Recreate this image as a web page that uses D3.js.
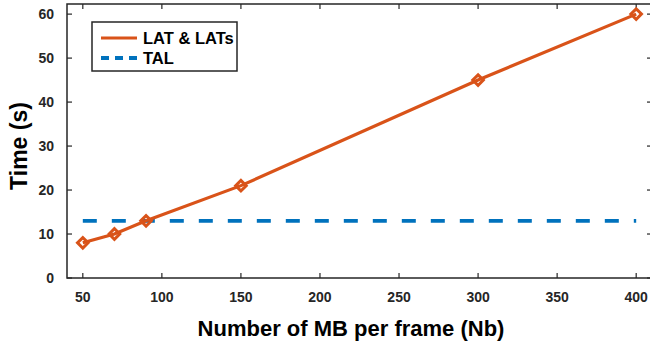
<!DOCTYPE html>
<html>
<head>
<meta charset="utf-8">
<script src="https://cdn.jsdelivr.net/npm/d3@7"></script>
<style>
  body { margin: 0; background: #fff; }
  text { font-family: "Liberation Sans", Arial, sans-serif; font-weight: bold; fill: #262626; }
</style>
</head>
<body>
<div id="chart"></div>
<script>
// data
const nb = [50, 70, 90, 150, 300, 400];
const latTime = [8, 10, 13, 21, 45, 60];
const talTime = 13;
const xTicks = [50, 100, 150, 200, 250, 300, 350, 400];
const yTicks = [0, 10, 20, 30, 40, 50, 60];
const seriesNames = ['LAT & LATs', 'TAL'];

const width = 650, height = 347;
const orange = '#D95319', blue = '#0072BD', axisColor = '#262626';

const svg = d3.select('#chart').append('svg')
  .attr('width', width)
  .attr('height', height);

const x = d3.scaleLinear().domain([40, 410]).range([67, 652]);
const y = d3.scaleLinear().domain([0, 62.3]).range([278, 4]);

// plot box
svg.append('rect')
  .attr('x', x(40)).attr('y', y(62.3))
  .attr('width', x(410) - x(40)).attr('height', y(0) - y(62.3))
  .attr('fill', 'none').attr('stroke', axisColor).attr('stroke-width', 1.5);

// inward ticks, all four sides
const tickLen = 5;
svg.append('g').selectAll('line').data(xTicks).enter().append('line')
  .attr('x1', d => x(d)).attr('x2', d => x(d))
  .attr('y1', y(0)).attr('y2', y(0) - tickLen)
  .attr('stroke', axisColor).attr('stroke-width', 1.2);
svg.append('g').selectAll('line').data(xTicks).enter().append('line')
  .attr('x1', d => x(d)).attr('x2', d => x(d))
  .attr('y1', y(62.3)).attr('y2', y(62.3) + tickLen)
  .attr('stroke', axisColor).attr('stroke-width', 1.2);
svg.append('g').selectAll('line').data(yTicks).enter().append('line')
  .attr('x1', x(40)).attr('x2', x(40) + tickLen)
  .attr('y1', d => y(d)).attr('y2', d => y(d))
  .attr('stroke', axisColor).attr('stroke-width', 1.2);
svg.append('g').selectAll('line').data(yTicks).enter().append('line')
  .attr('x1', x(410)).attr('x2', x(410) - tickLen)
  .attr('y1', d => y(d)).attr('y2', d => y(d))
  .attr('stroke', axisColor).attr('stroke-width', 1.2);

// tick labels
svg.append('g').selectAll('text').data(xTicks).enter().append('text')
  .attr('x', d => x(d)).attr('y', 302)
  .attr('text-anchor', 'middle').style('font-size', '14px')
  .text(d => d);
svg.append('g').selectAll('text').data(yTicks).enter().append('text')
  .attr('x', 54).attr('y', d => y(d) + 5)
  .attr('text-anchor', 'end').style('font-size', '14px')
  .text(d => d);

// axis titles
svg.append('text')
  .attr('x', 351).attr('y', 336)
  .attr('text-anchor', 'middle').style('font-size', '22px').style('fill', '#000')
  .text('Number of MB per frame (Nb)');
svg.append('text')
  .attr('transform', 'translate(27,146) rotate(-90)')
  .attr('text-anchor', 'middle').style('font-size', '23px').style('fill', '#000')
  .text('Time (s)');

// TAL dashed line
svg.append('line')
  .attr('x1', x(nb[0])).attr('x2', x(nb[nb.length - 1]))
  .attr('y1', y(talTime)).attr('y2', y(talTime))
  .attr('stroke', blue).attr('stroke-width', 3.8)
  .attr('stroke-dasharray', '14,15');

// LAT & LATs line
const pts = nb.map((d, i) => ({ x: d, y: latTime[i] }));
const line = d3.line().x(d => x(d.x)).y(d => y(d.y));
svg.append('path')
  .datum(pts)
  .attr('d', line)
  .attr('fill', 'none').attr('stroke', orange).attr('stroke-width', 3.2);

const diamond = d3.symbol().type(d3.symbolSquare).size(56);
svg.append('g').selectAll('path').data(pts).enter().append('path')
  .attr('d', diamond)
  .attr('transform', d => `translate(${x(d.x)},${y(d.y)}) rotate(45)`)
  .attr('fill', 'none').attr('stroke', orange).attr('stroke-width', 3);

// legend
const legend = svg.append('g');
legend.append('rect')
  .attr('x', 92).attr('y', 22).attr('width', 145).attr('height', 49)
  .attr('fill', '#fff').attr('stroke', axisColor).attr('stroke-width', 1.5);
const rowY = [38, 58];
legend.append('line')
  .attr('x1', 101).attr('x2', 137).attr('y1', rowY[0]).attr('y2', rowY[0])
  .attr('stroke', orange).attr('stroke-width', 3.2);
legend.append('line')
  .attr('x1', 101).attr('x2', 137).attr('y1', rowY[1]).attr('y2', rowY[1])
  .attr('stroke', blue).attr('stroke-width', 3.8)
  .attr('stroke-dasharray', '8,6');
legend.selectAll('text.lg').data(seriesNames).enter().append('text')
  .attr('class', 'lg')
  .attr('x', 143).attr('y', (d, i) => rowY[i] + 6)
  .style('font-size', '16.5px').style('fill', '#000')
  .text(d => d);
</script>
</body>
</html>
